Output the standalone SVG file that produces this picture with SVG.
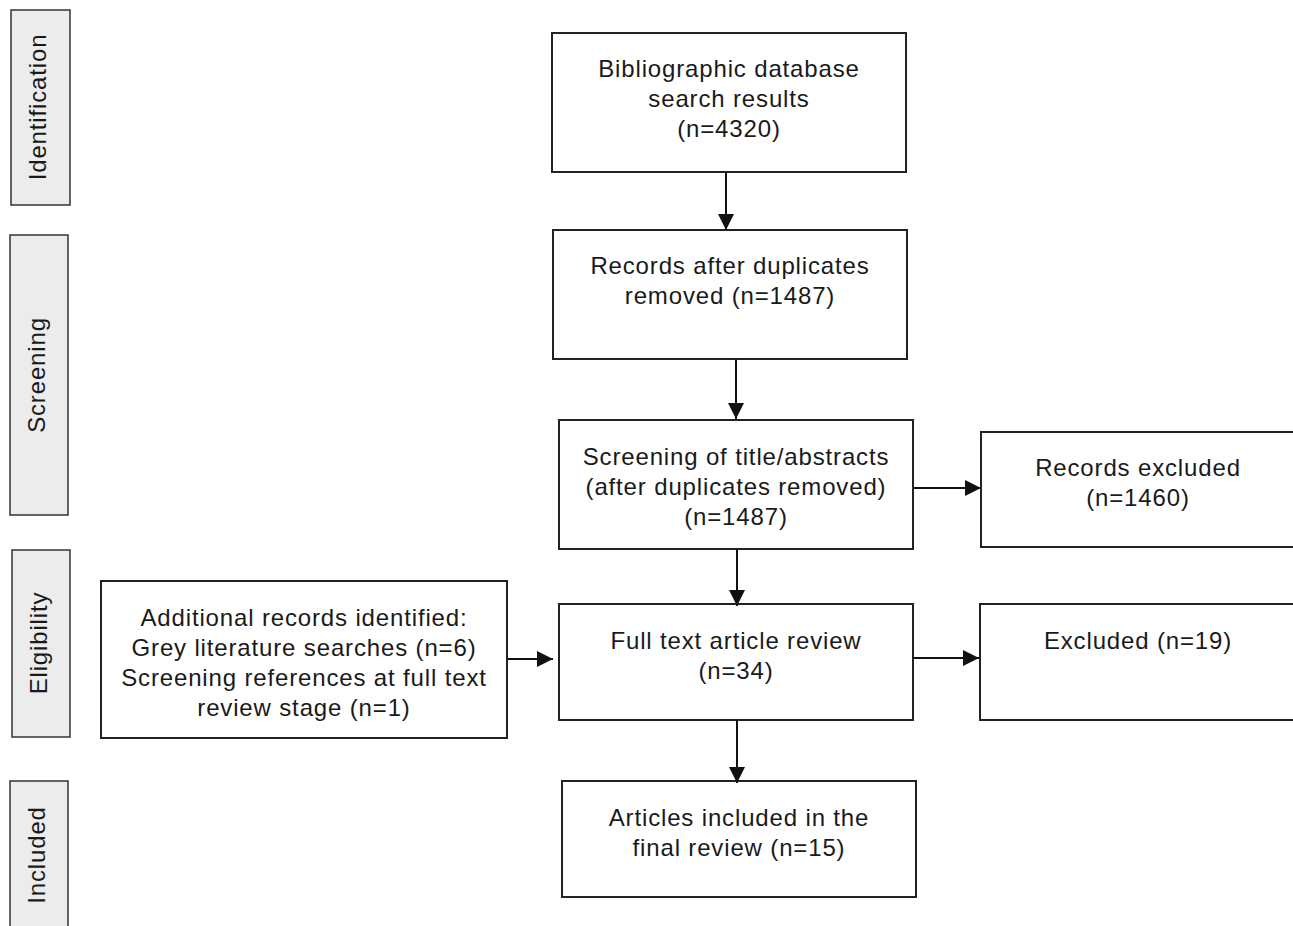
<svg xmlns="http://www.w3.org/2000/svg" width="1293" height="926" viewBox="0 0 1293 926">
<defs>
<style>
.box{fill:#fff;stroke:#222;stroke-width:2}
.stage{fill:#ececec;stroke:#333;stroke-width:1.5}
text{font-family:"Liberation Sans",Arial,sans-serif;font-size:24px;letter-spacing:0.85px;fill:#1a1a1a;text-anchor:middle}
.conn{stroke:#111;stroke-width:2;fill:none}
</style>
<marker id="ah" viewBox="0 0 10 10" refX="10" refY="5" markerWidth="16" markerHeight="16" markerUnits="userSpaceOnUse" orient="auto">
<path d="M0,0 L10,5 L0,10 Z" fill="#111"/>
</marker>
</defs>
<rect width="1293" height="926" fill="#fff"/>
<g id="stage-identification"><rect class="stage" x="11" y="10" width="59" height="195"/><text transform="translate(46,107) rotate(-90)">Identification</text></g>
<g id="stage-screening"><rect class="stage" x="10" y="235" width="58" height="280"/><text transform="translate(45,375) rotate(-90)">Screening</text></g>
<g id="stage-eligibility"><rect class="stage" x="12" y="550" width="58" height="187"/><text transform="translate(47,643) rotate(-90)">Eligibility</text></g>
<g id="stage-included"><rect class="stage" x="10" y="781" width="58" height="160"/><text transform="translate(45,855) rotate(-90)">Included</text></g>

<g id="n-database"><rect class="box" x="552" y="33" width="354" height="139"/><text x="729" y="77">Bibliographic database</text><text x="729" y="107">search results</text><text x="729" y="137">(n=4320)</text></g>
<g id="n-duplicates"><rect class="box" x="553" y="230" width="354" height="129"/><text x="730" y="274">Records after duplicates</text><text x="730" y="304">removed (n=1487)</text></g>
<g id="n-screening"><rect class="box" x="559" y="420" width="354" height="129"/><text x="736" y="465">Screening of title/abstracts</text><text x="736" y="495">(after duplicates removed)</text><text x="736" y="525">(n=1487)</text></g>
<g id="n-excluded1"><rect class="box" x="981" y="432" width="320" height="115"/><text x="1138" y="476">Records excluded</text><text x="1138" y="506">(n=1460)</text></g>
<g id="n-additional"><rect class="box" x="101" y="581" width="406" height="157"/><text x="304" y="626">Additional records identified:</text><text x="304" y="656">Grey literature searches (n=6)</text><text x="304" y="686">Screening references at full text</text><text x="304" y="716">review stage (n=1)</text></g>
<g id="n-fulltext"><rect class="box" x="559" y="604" width="354" height="116"/><text x="736" y="649">Full text article review</text><text x="736" y="679">(n=34)</text></g>
<g id="n-excluded2"><rect class="box" x="980" y="604" width="320" height="116"/><text x="1138" y="649">Excluded (n=19)</text></g>
<g id="n-included"><rect class="box" x="562" y="781" width="354" height="116"/><text x="739" y="826">Articles included in the</text><text x="739" y="856">final review (n=15)</text></g>

<g id="connectors">
<line class="conn" x1="726" y1="172" x2="726" y2="230" marker-end="url(#ah)"/>
<line class="conn" x1="736" y1="359" x2="736" y2="419" marker-end="url(#ah)"/>
<line class="conn" x1="913" y1="488" x2="981" y2="488" marker-end="url(#ah)"/>
<line class="conn" x1="737" y1="549" x2="737" y2="606" marker-end="url(#ah)"/>
<line class="conn" x1="507" y1="659" x2="553" y2="659" marker-end="url(#ah)"/>
<line class="conn" x1="913" y1="658" x2="979" y2="658" marker-end="url(#ah)"/>
<line class="conn" x1="737" y1="720" x2="737" y2="783" marker-end="url(#ah)"/>
</g>
</svg>
